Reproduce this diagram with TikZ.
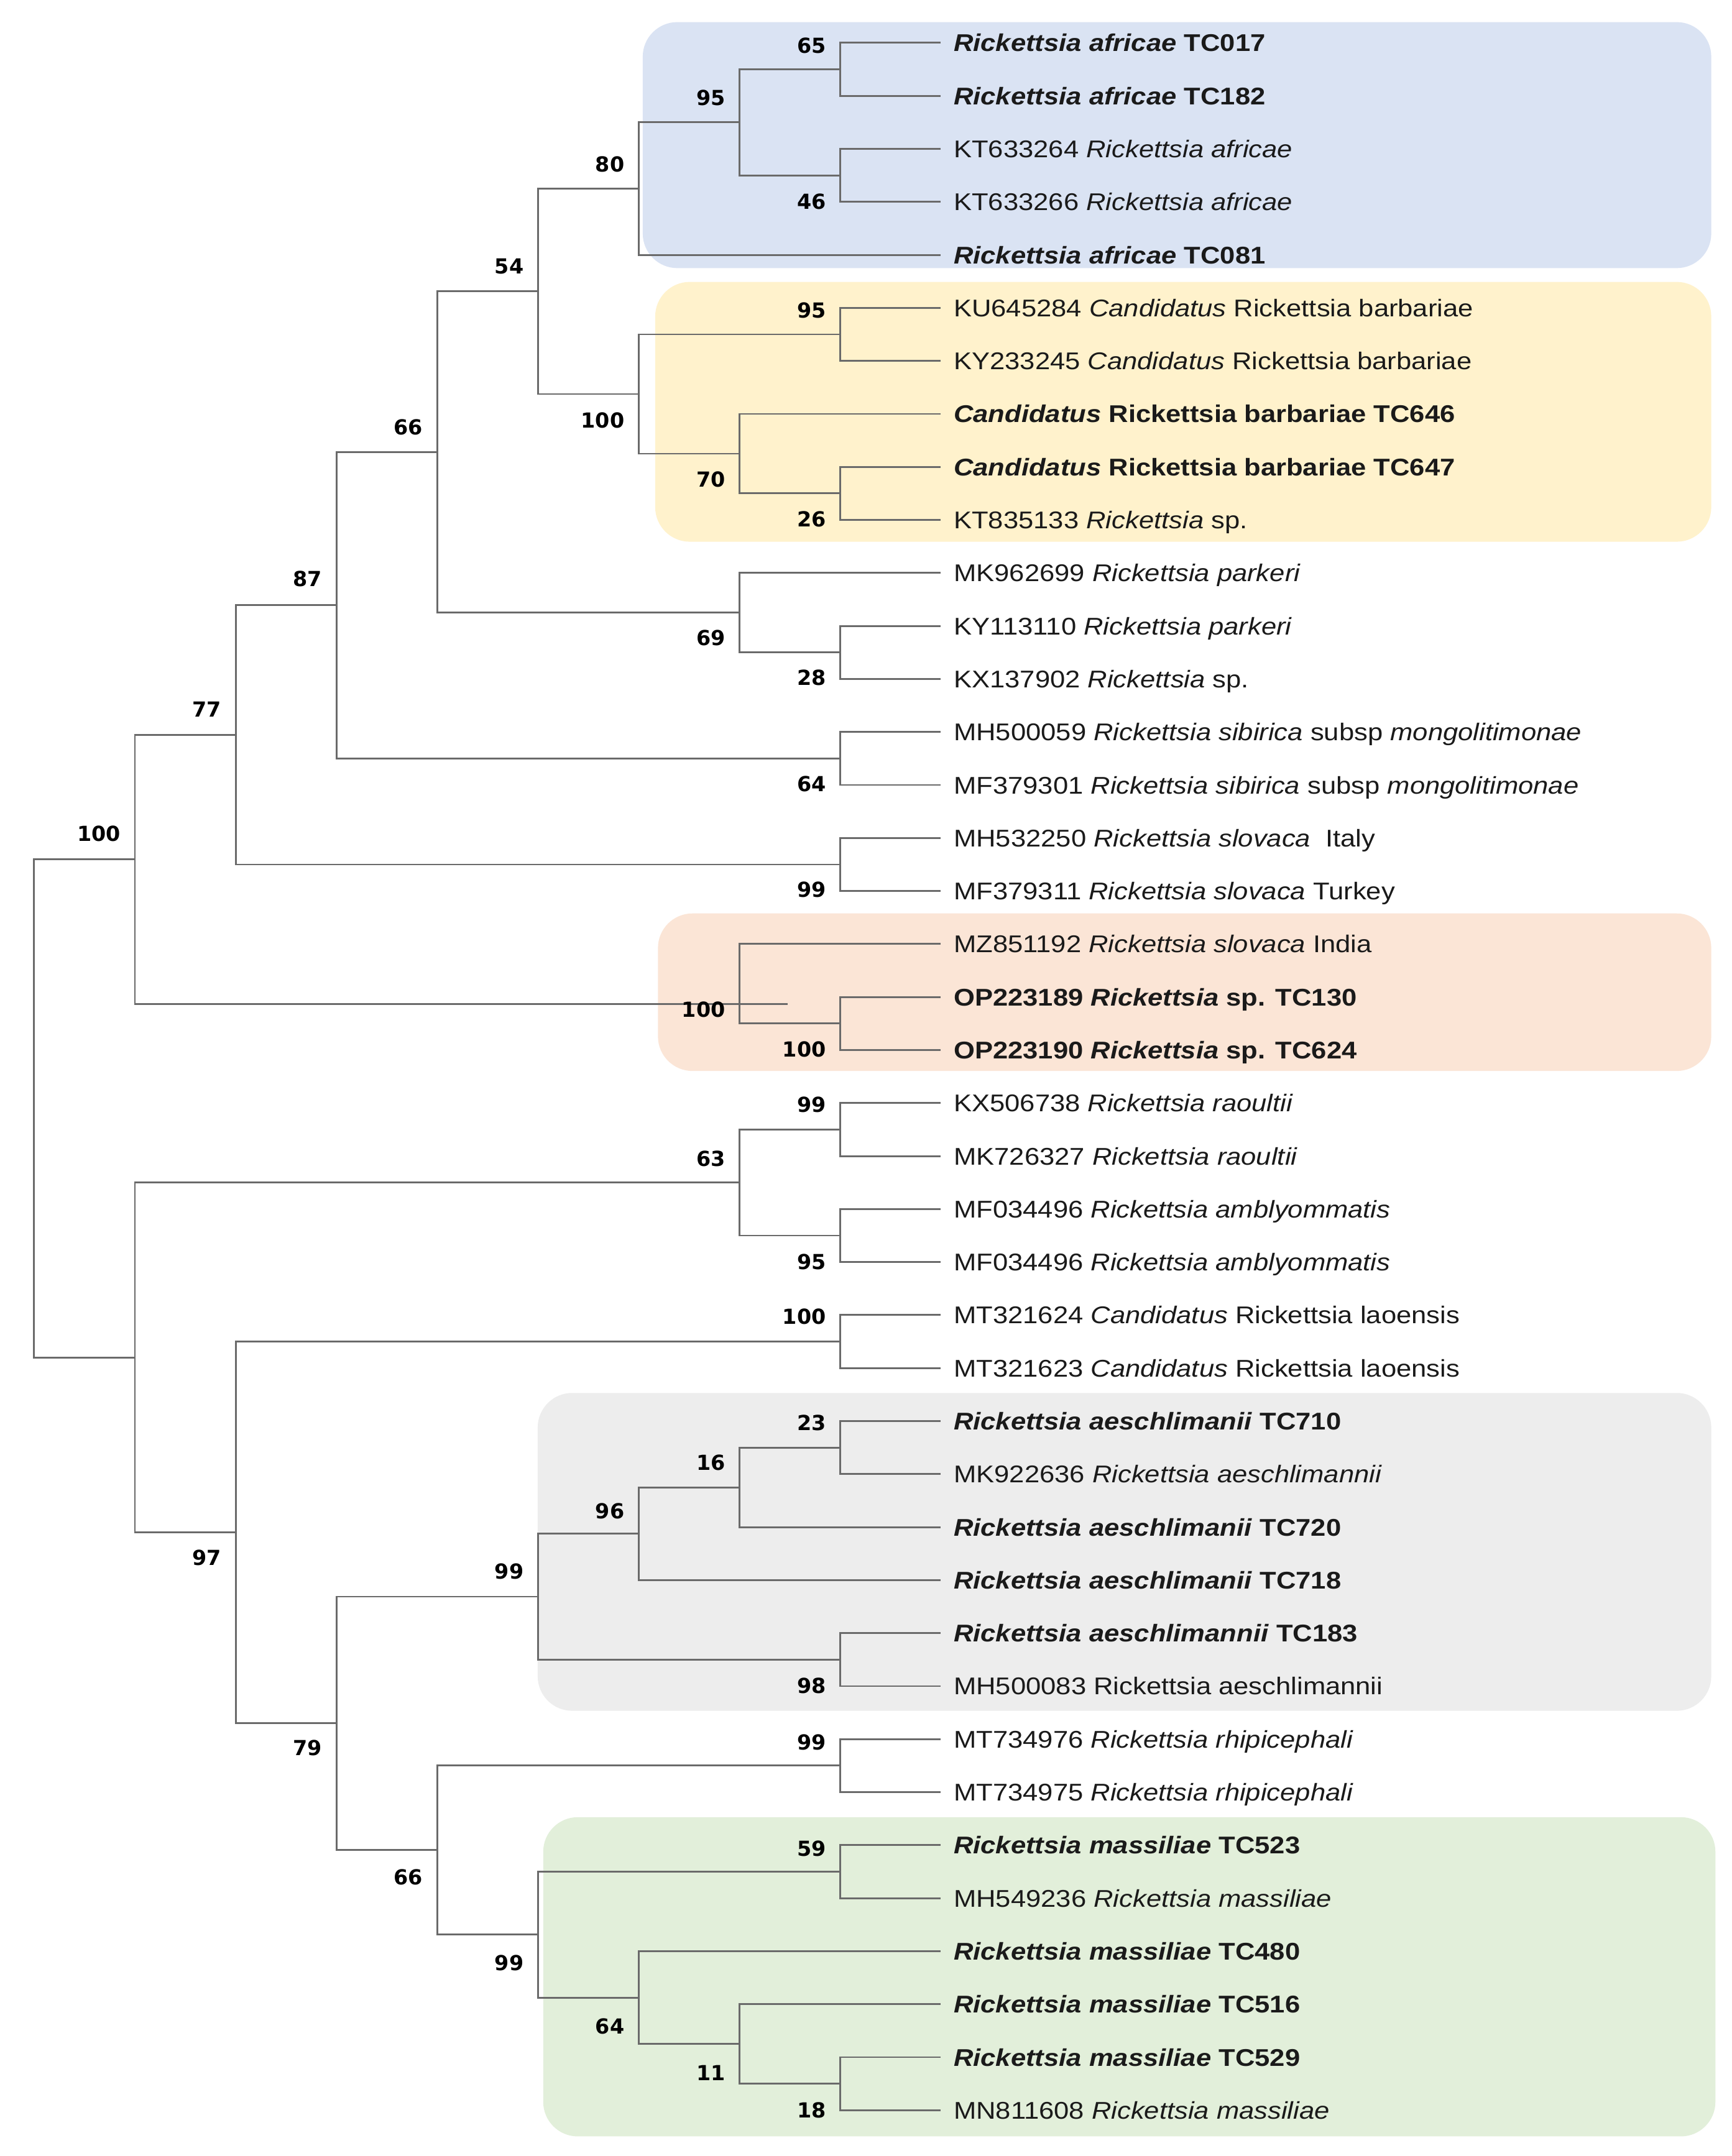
\documentclass[tikz,border=0pt]{standalone}
\usepackage{fontspec}
\setmainfont{Liberation Sans}[FakeStretch=1.12]
\newfontfamily\bsfont{DejaVu Sans}
\definecolor{boxblue}{HTML}{DAE3F3}
\definecolor{boxyellow}{HTML}{FFF2CC}
\definecolor{boxpeach}{HTML}{FBE5D6}
\definecolor{boxgrey}{HTML}{EDEDED}
\definecolor{boxgreen}{HTML}{E2EFDA}
\definecolor{brc}{HTML}{6A6A6A}
\definecolor{txt}{HTML}{1A1A1A}
\def\Lx#1{24.7+72.9*#1}
\def\ty#1{31+(#1-1)*38.36}
\tikzset{
  br/.style={draw=brc, line width=0.65pt},
  tip/.style={anchor=west, inner xsep=4.6pt, inner ysep=0pt, text height=6.3pt, text depth=0pt, font=\fontsize{8.75}{10}\selectfont, text=txt},
  bs/.style={anchor=east, inner sep=0pt, text height=5.5pt, text depth=0pt, font=\bsfont\bfseries\fontsize{7.5}{9}\selectfont, text=black},
  clade/.style={rounded corners=12.5pt}
}
\begin{document}
\begin{tikzpicture}[x=0.5pt,y=-0.5pt]
\useasboundingbox[fill=white] (0,0) rectangle (1253,1560.2);
% clade boxes
\fill[boxblue,clade] (465,16) rectangle (1238,194);
\fill[boxyellow,clade] (474,204) rectangle (1238,392);
\fill[boxpeach,clade] (476,661) rectangle (1238,775);
\fill[boxgrey,clade] (389,1008) rectangle (1238,1238);
\fill[boxgreen,clade] (393,1315) rectangle (1241,1546);
% tips
\foreach \i/\t in {
 1/{\textbf{\textit{Rickettsia africae} TC017}},
 2/{\textbf{\textit{Rickettsia africae} TC182}},
 3/{KT633264 \textit{Rickettsia africae}},
 4/{KT633266 \textit{Rickettsia africae}},
 5/{\textbf{\textit{Rickettsia africae} TC081}},
 6/{KU645284 \textit{Candidatus} Rickettsia barbariae},
 7/{KY233245 \textit{Candidatus} Rickettsia barbariae},
 8/{\textbf{\textit{Candidatus} Rickettsia barbariae TC646}},
 9/{\textbf{\textit{Candidatus} Rickettsia barbariae TC647}},
 10/{KT835133 \textit{Rickettsia} sp.},
 11/{MK962699 \textit{Rickettsia parkeri}},
 12/{KY113110 \textit{Rickettsia parkeri}},
 13/{KX137902 \textit{Rickettsia} sp.},
 14/{MH500059 \textit{Rickettsia sibirica} subsp \textit{mongolitimonae}},
 15/{MF379301 \textit{Rickettsia sibirica} subsp \textit{mongolitimonae}},
 16/{MH532250 \textit{Rickettsia slovaca}\ \ Italy},
 17/{MF379311 \textit{Rickettsia slovaca} Turkey},
 18/{MZ851192 \textit{Rickettsia slovaca} India},
 19/{\textbf{OP223189 \textit{Rickettsia} sp. TC130}},
 20/{\textbf{OP223190 \textit{Rickettsia} sp. TC624}},
 21/{KX506738 \textit{Rickettsia raoultii}},
 22/{MK726327 \textit{Rickettsia raoultii}},
 23/{MF034496 \textit{Rickettsia amblyommatis}},
 24/{MF034496 \textit{Rickettsia amblyommatis}},
 25/{MT321624 \textit{Candidatus} Rickettsia laoensis},
 26/{MT321623 \textit{Candidatus} Rickettsia laoensis},
 27/{\textbf{\textit{Rickettsia aeschlimanii} TC710}},
 28/{MK922636 \textit{Rickettsia aeschlimannii}},
 29/{\textbf{\textit{Rickettsia aeschlimanii} TC720}},
 30/{\textbf{\textit{Rickettsia aeschlimanii} TC718}},
 31/{\textbf{\textit{Rickettsia aeschlimannii} TC183}},
 32/{MH500083 Rickettsia aeschlimannii},
 33/{MT734976 \textit{Rickettsia rhipicephali}},
 34/{MT734975 \textit{Rickettsia rhipicephali}},
 35/{\textbf{\textit{Rickettsia massiliae} TC523}},
 36/{MH549236 \textit{Rickettsia massiliae}},
 37/{\textbf{\textit{Rickettsia massiliae} TC480}},
 38/{\textbf{\textit{Rickettsia massiliae} TC516}},
 39/{\textbf{\textit{Rickettsia massiliae} TC529}},
 40/{MN811608 \textit{Rickettsia massiliae}}}
 {\node[tip] (t\i) at (680.4,{\ty{\i}}) {\t};}
% internal nodes
\coordinate (root) at ({\Lx{0}},{\ty{21.1}});
\coordinate (A) at ({\Lx{1}},{\ty{16.4}});
\coordinate (B) at ({\Lx{2}},{\ty{14.0547}});
\coordinate (C) at ({\Lx{3}},{\ty{11.6094}});
\coordinate (D) at ({\Lx{4}},{\ty{8.71875}});
\coordinate (E) at ({\Lx{5}},{\ty{5.6875}});
\coordinate (F) at ({\Lx{6}},{\ty{3.75}});
\coordinate (F1) at ({\Lx{7}},{\ty{2.5}});
\coordinate (F1a) at ({\Lx{8}},{\ty{1.5}});
\coordinate (F1b) at ({\Lx{8}},{\ty{3.5}});
\coordinate (G) at ({\Lx{6}},{\ty{7.625}});
\coordinate (G1) at ({\Lx{8}},{\ty{6.5}});
\coordinate (G2) at ({\Lx{7}},{\ty{8.75}});
\coordinate (G2b) at ({\Lx{8}},{\ty{9.5}});
\coordinate (P) at ({\Lx{7}},{\ty{11.75}});
\coordinate (P2) at ({\Lx{8}},{\ty{12.5}});
\coordinate (Sib) at ({\Lx{8}},{\ty{14.5}});
\coordinate (S) at ({\Lx{8}},{\ty{16.5}});
\coordinate (In) at ({\Lx{7}},{\ty{19.13}});
\coordinate (InEnd) at (570,{\ty{19.13}});
\coordinate (In2) at ({\Lx{8}},{\ty{19.5}});
\coordinate (H) at ({\Lx{1}},{\ty{25.8}});
\coordinate (I) at ({\Lx{7}},{\ty{22.5}});
\coordinate (I1) at ({\Lx{8}},{\ty{21.5}});
\coordinate (I2) at ({\Lx{8}},{\ty{23.5}});
\coordinate (J) at ({\Lx{2}},{\ty{29.1}});
\coordinate (K) at ({\Lx{8}},{\ty{25.5}});
\coordinate (L) at ({\Lx{3}},{\ty{32.703}});
\coordinate (M) at ({\Lx{5}},{\ty{30.3125}});
\coordinate (M1) at ({\Lx{6}},{\ty{29.125}});
\coordinate (M1a) at ({\Lx{7}},{\ty{28.25}});
\coordinate (M1aa) at ({\Lx{8}},{\ty{27.5}});
\coordinate (M2) at ({\Lx{8}},{\ty{31.5}});
\coordinate (N) at ({\Lx{4}},{\ty{35.094}});
\coordinate (R) at ({\Lx{8}},{\ty{33.5}});
\coordinate (O) at ({\Lx{5}},{\ty{36.6875}});
\coordinate (O1) at ({\Lx{8}},{\ty{35.5}});
\coordinate (O2) at ({\Lx{6}},{\ty{37.875}});
\coordinate (O3) at ({\Lx{7}},{\ty{38.75}});
\coordinate (O4) at ({\Lx{8}},{\ty{39.5}});
% branches
\foreach \p/\c in {root/A, root/H, A/B, A/InEnd, B/C, B/S, C/D, C/Sib, D/E, D/P,
  E/F, E/G, F/F1, F1/F1a, F1/F1b, G/G1, G/G2, G2/G2b, P/P2, In/In2,
  H/I, H/J, I/I1, I/I2, J/K, J/L, L/M, L/N, M/M1, M/M2, M1/M1a, M1a/M1aa,
  N/R, N/O, O/O1, O/O2, O2/O3, O3/O4}
  {\draw[br] (\p) |- (\c);}
\foreach \p/\c in {F1a/t1, F1a/t2, F1b/t3, F1b/t4, F/t5, G1/t6, G1/t7, G2/t8,
  G2b/t9, G2b/t10, P/t11, P2/t12, P2/t13, Sib/t14, Sib/t15, S/t16, S/t17,
  In/t18, In2/t19, In2/t20, I1/t21, I1/t22, I2/t23, I2/t24, K/t25, K/t26,
  M1aa/t27, M1aa/t28, M1a/t29, M1/t30, M2/t31, M2/t32, R/t33, R/t34,
  O1/t35, O1/t36, O2/t37, O3/t38, O4/t39, O4/t40}
  {\draw[br] (\p) |- (\c.west);}
% bootstrap values
\foreach \k/\y/\v/\n in {
 8/33/65/b1, 7/71/95/b2, 8/146/46/b3, 6/119/80/b4, 5/193/54/b5,
 8/225/95/b6, 6/305/100/b7, 7/348/70/b8, 8/377/26/b9, 4/310/66/b10,
 3/420/87/b11, 7/463/69/b12, 8/492/28/b13, 2/515/77/b14, 8/569/64/b15,
 1/605/100/b16, 8/646/99/b17, 7/733/100/b18, 8/762/100/b19, 8/802/99/b20,
 7/841/63/b21, 8/916/95/b22, 8/956/100/b23, 8/1033/23/b24, 7/1062/16/b25,
 6/1097/96/b26, 5/1141/99/b27, 8/1224/98/b28, 2/1131/97/b29, 8/1265/99/b30,
 3/1269/79/b31, 8/1342/59/b32, 4/1363/66/b33, 5/1425/99/b34, 6/1471/64/b35,
 7/1505/11/b36, 8/1532/18/b37}
 {\node[bs] (\n) at ({\Lx{\k}-10},{31+(\y-31)*0.9966}) {\v};}
\end{tikzpicture}
\end{document}
